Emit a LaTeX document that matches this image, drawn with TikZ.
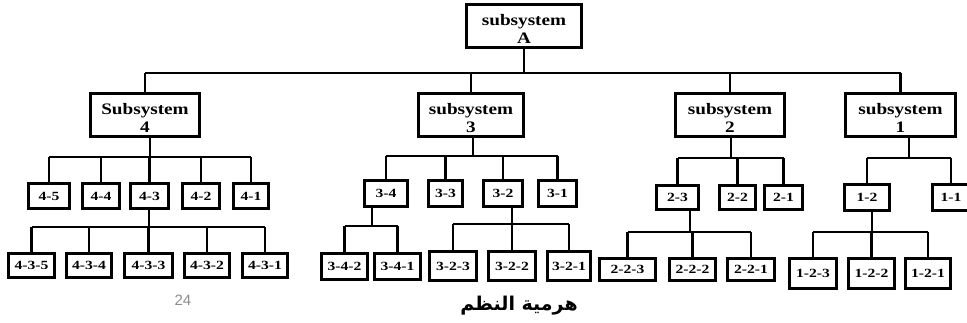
\documentclass[tikz,border=0pt]{standalone}
\usepackage{fontspec}
\TeXXeTstate=1
\newfontfamily\serifb{Liberation Serif}[FakeStretch=1.2]
\newfontfamily\serifc{Liberation Serif}[FakeStretch=1.25]
\newfontfamily\arabicfont[Script=Arabic]{DejaVu Sans}
\newfontfamily\numfont{Liberation Sans}
\tikzset{
  bigbox/.style={draw, line width=3.2pt, fill=white, inner sep=0pt, align=center,
    minimum width=#1, minimum height=43pt,
    font=\serifb\bfseries\fontsize{16}{18}\selectfont},
  smbox/.style={draw, line width=2.8pt, fill=white, inner sep=0pt,
    font=\serifc\bfseries\fontsize{12.5}{14}\selectfont},
  wire/.style={line width=2.6pt},
}
\newcommand{\mybox}[5]{\node[smbox, minimum width=#4pt, minimum height=#5pt] (#1) at (#2) {#3};}
\newcommand{\up}{\rule{0pt}{16.5pt}}
\begin{document}
\begin{tikzpicture}[x=1pt,y=-1pt]
\useasboundingbox (0,0) rectangle (967,323);
% top level
\node[bigbox=115pt] (A) at (524,26) {\up subsystem\\A};
\node[bigbox=109pt] (S4) at (145,115) {\up Subsystem\\4};
\node[bigbox=105pt] (S3) at (471,115) {\up subsystem\\3};
\node[bigbox=109pt] (S2) at (730,115) {\up subsystem\\2};
\node[bigbox=110pt] (S1) at (900.5,115) {\up subsystem\\1};
\coordinate (bA) at (524,73);
\draw[wire] (A.south) -- (bA);
\draw[wire] (S4.north |- bA) -- (S1.north |- bA);
\foreach \n in {S4,S3,S2,S1} \draw[wire] (\n.north) -- (\n.north |- bA);
% subsystem 4
\mybox{n45}{49,196}{4-5}{41}{25}
\mybox{n44}{101,196}{4-4}{37}{25}
\mybox{n43}{149.5,196}{4-3}{38}{25}
\mybox{n42}{201,196}{4-2}{37}{25}
\mybox{n41}{251,196}{4-1}{35}{25}
\coordinate (b4) at (150,157);
\draw[wire] (b4 |- S4.south) -- (b4);
\draw[wire] (n45.north |- b4) -- (n41.north |- b4);
\foreach \n in {n45,n44,n43,n42,n41} \draw[wire] (\n.north) -- (\n.north |- b4);
\mybox{n435}{31.5,265.5}{4-3-5}{46}{24}
\mybox{n434}{89,265.5}{4-3-4}{45}{24}
\mybox{n433}{148.5,265.5}{4-3-3}{48}{24}
\mybox{n432}{207,265.5}{4-3-2}{45}{24}
\mybox{n431}{265,265.5}{4-3-1}{45}{24}
\coordinate (b43) at (149,227);
\draw[wire] (b43 |- n43.south) -- (b43);
\draw[wire] (n435.north |- b43) -- (n431.north |- b43);
\foreach \n in {n435,n434,n433,n432,n431} \draw[wire] (\n.north) -- (\n.north |- b43);
% subsystem 3
\mybox{n34}{386,193.5}{3-4}{43}{26}
\mybox{n33}{445.5,193.5}{3-3}{34}{26}
\mybox{n32}{503,193.5}{3-2}{39}{26}
\mybox{n31}{557.5,193.5}{3-1}{38}{26}
\coordinate (b3) at (473,156);
\draw[wire] (b3 |- S3.south) -- (b3);
\draw[wire] (n34.north |- b3) -- (n31.north |- b3);
\foreach \n in {n34,n33,n32,n31} \draw[wire] (\n.north) -- (\n.north |- b3);
\mybox{n342}{344.5,266.5}{3-4-2}{46}{26}
\mybox{n341}{397.5,266.5}{3-4-1}{46}{26}
\coordinate (b34) at (372,226);
\draw[wire] (b34 |- n34.south) -- (b34);
\draw[wire] (n342.north |- b34) -- (n341.north |- b34);
\foreach \n in {n342,n341} \draw[wire] (\n.north) -- (\n.north |- b34);
\mybox{n323}{453,266}{3-2-3}{47}{29}
\mybox{n322}{512,266}{3-2-2}{47}{29}
\mybox{n321}{569,266}{3-2-1}{43}{29}
\coordinate (b32) at (512,224);
\draw[wire] (b32 |- n32.south) -- (b32);
\draw[wire] (n323.north |- b32) -- (n321.north |- b32);
\foreach \n in {n323,n322,n321} \draw[wire] (\n.north) -- (\n.north |- b32);
% subsystem 2
\mybox{n23}{677.5,197.5}{2-3}{42}{24}
\mybox{n22}{737.5,197.5}{2-2}{36}{24}
\mybox{n21}{783.5,197.5}{2-1}{38}{24}
\coordinate (b2) at (731,158);
\draw[wire] (b2 |- S2.south) -- (b2);
\draw[wire] (n23.north |- b2) -- (n21.north |- b2);
\foreach \n in {n23,n22,n21} \draw[wire] (\n.north) -- (\n.north |- b2);
\mybox{n223}{627.5,269.5}{2-2-3}{56}{22}
\mybox{n222}{692.5,269.5}{2-2-2}{46}{22}
\mybox{n221}{751,269.5}{2-2-1}{47}{22}
\coordinate (b23) at (690,232);
\draw[wire] (b23 |- n23.south) -- (b23);
\draw[wire] (n223.north |- b23) -- (n221.north |- b23);
\foreach \n in {n223,n222,n221} \draw[wire] (\n.north) -- (\n.north |- b23);
% subsystem 1
\mybox{n12}{867,197.5}{1-2}{45}{26}
\mybox{n11}{951,197.5}{1-1}{37}{26}
\coordinate (b1) at (909,158);
\draw[wire] (b1 |- S1.south) -- (b1);
\draw[wire] (n12.north |- b1) -- (n11.north |- b1);
\foreach \n in {n12,n11} \draw[wire] (\n.north) -- (\n.north |- b1);
\mybox{n123}{813,273.5}{1-2-3}{47}{30}
\mybox{n122}{871.5,273.5}{1-2-2}{46}{30}
\mybox{n121}{928,273.5}{1-2-1}{45}{30}
\coordinate (b12) at (872,232);
\draw[wire] (b12 |- n12.south) -- (b12);
\draw[wire] (n123.north |- b12) -- (n121.north |- b12);
\foreach \n in {n123,n122,n121} \draw[wire] (\n.north) -- (\n.north |- b12);
% footer
\node[font=\numfont\fontsize{15}{17}\selectfont, text=black!45] (pg) at (183,300) {24};
\node[font=\arabicfont\bfseries\fontsize{19}{22}\selectfont] (title) at (519,306) {\beginR هرمية النظم\endR};
\end{tikzpicture}
\end{document}
